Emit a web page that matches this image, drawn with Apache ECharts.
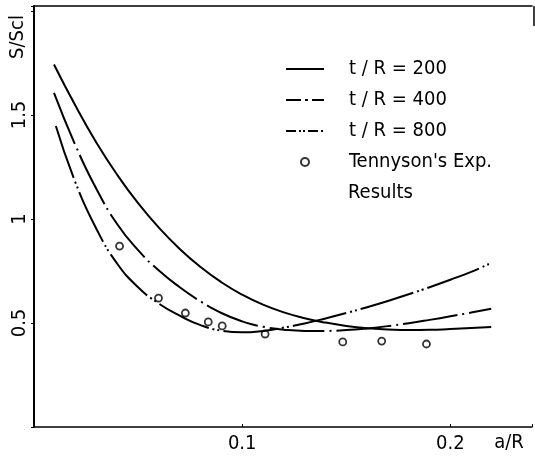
<!DOCTYPE html>
<html>
<head>
<meta charset="utf-8">
<script src="https://cdn.jsdelivr.net/npm/echarts@6/dist/echarts.min.js"></script>
<style>html,body{margin:0;padding:0;background:#fff}#c{width:535px;height:456px}</style>
</head>
<body>
<div id="c"></div>
<script>
// ---- data (a/R on x, S/Scl on y) ----
const x200 = [0.0096,0.02,0.03,0.04,0.05,0.06,0.07,0.08,0.09,0.10,0.11,0.12,0.13,0.14,0.15,0.16,0.17,0.18,0.19,0.20,0.21,0.2196];
const s200 = [1.743,1.543,1.367,1.212,1.076,0.958,0.856,0.769,0.696,0.636,0.588,0.551,0.523,0.502,0.486,0.475,0.469,0.466,0.467,0.471,0.476,0.481];

const x400 = [0.0096,0.02,0.03,0.04,0.05,0.06,0.07,0.08,0.09,0.10,0.11,0.12,0.13,0.14,0.15,0.16,0.17,0.18,0.19,0.20,0.21,0.2196];
const s400 = [1.606,1.352,1.144,0.975,0.850,0.752,0.672,0.604,0.548,0.508,0.482,0.468,0.462,0.462,0.466,0.474,0.485,0.499,0.515,0.532,0.550,0.568];

const x800 = [0.0105,0.02,0.03,0.04,0.05,0.06,0.07,0.08,0.09,0.10,0.11,0.12,0.13,0.14,0.15,0.16,0.17,0.18,0.19,0.20,0.21,0.219];
const s800 = [1.447,1.173,0.952,0.785,0.672,0.593,0.535,0.490,0.463,0.455,0.462,0.478,0.498,0.522,0.548,0.576,0.606,0.638,0.672,0.708,0.746,0.786];

const expX = [0.0411,0.0598,0.0727,0.0837,0.0904,0.111,0.1483,0.167,0.1885];
const expY = [0.870,0.620,0.548,0.505,0.486,0.447,0.409,0.413,0.399];

const seriesNames = ['t / R = 200','t / R = 400','t / R = 800',"Tennyson's Exp."];
const xTickLabels = ['0.1','0.2'];
const yTickLabels = ['0.5','1','1.5'];

const FONT = "'Liberation Sans Narrow','DejaVu Sans Condensed','Liberation Sans',sans-serif";
const pairs = (xs, ys) => xs.map((x, i) => [x, ys[i]]);
const fmt = (v, list) => { for (const s of list) { if (Math.abs(v - parseFloat(s)) < 1e-9) return s; } return ''; };
const hideSym = {opacity: 0};

const chart = echarts.init(document.getElementById('c'), null, {renderer: 'canvas'});
chart.setOption({
  animation: false,
  backgroundColor: '#fff',
  grid: {left: 34, right: 1, top: 6, bottom: 29},
  xAxis: [{
    type: 'value', min: 0, max: 0.2392, interval: 0.1,
    axisLine: {lineStyle: {color: '#000', width: 1.5}},
    axisTick: {show: true, inside: true, length: 3, lineStyle: {color: '#000'}},
    splitLine: {show: false},
    axisLabel: {color: '#000', fontSize: 20, fontFamily: FONT, margin: 7, formatter: v => fmt(v, xTickLabels)}
  }, {
    type: 'value', position: 'top', min: 0, max: 0.2392,
    axisLine: {show: true, lineStyle: {color: '#000', width: 1.5}},
    axisTick: {show: false}, axisLabel: {show: false}, splitLine: {show: false}
  }],
  yAxis: {
    type: 'value', min: 0, max: 2.024, interval: 0.5,
    axisLine: {show: true, lineStyle: {color: '#000', width: 2}},
    axisTick: {show: true, length: 3, lineStyle: {color: '#000'}},
    splitLine: {show: false},
    axisLabel: {color: '#000', fontSize: 20, fontFamily: FONT, rotate: 90, margin: 4, formatter: v => fmt(v, yTickLabels)}
  },
  legend: {
    orient: 'vertical', left: 280, top: 54,
    itemWidth: 38, itemHeight: 8, itemGap: 11,
    textStyle: {fontSize: 20, color: '#000', fontFamily: FONT, padding: [0, 0, 0, 20]},
    data: [
      {name: seriesNames[0], lineStyle: {type: 'solid'}, itemStyle: hideSym},
      {name: seriesNames[1], lineStyle: {type: [15, 4, 3, 4]}, itemStyle: hideSym},
      {name: seriesNames[2], lineStyle: {type: [10, 3, 2, 2, 2, 3]}, itemStyle: hideSym},
      {name: seriesNames[3], icon: 'circle'}
    ]
  },
  graphic: [
    {type: 'text', left: 348, top: 183, style: {text: 'Results', fontSize: 20, fontFamily: FONT, fill: '#000'}},
    {type: 'text', x: 509, y: 443, style: {text: 'a/R', fontSize: 20, fontFamily: FONT, fill: '#000', textAlign: 'center', textVerticalAlign: 'middle'}},
    {type: 'text', x: 18, y: 37, rotation: Math.PI / 2, style: {text: 'S/Scl', fontSize: 20, fontFamily: FONT, fill: '#000', textAlign: 'center', textVerticalAlign: 'middle'}},
    {type: 'line', shape: {x1: 534, y1: 6, x2: 534, y2: 26}, style: {stroke: '#000', lineWidth: 1.5}}
  ],
  series: [
    {name: seriesNames[0], type: 'line', smooth: true, symbol: 'none', data: pairs(x200, s200),
     lineStyle: {color: '#000', width: 2, type: 'solid'}, itemStyle: {color: '#000'}},
    {name: seriesNames[1], type: 'line', smooth: true, symbol: 'none', data: pairs(x400, s400),
     lineStyle: {color: '#000', width: 2, type: [55, 5, 2, 5]}, itemStyle: {color: '#000'}},
    {name: seriesNames[2], type: 'line', smooth: true, symbol: 'none', data: pairs(x800, s800),
     lineStyle: {color: '#000', width: 2, type: [55, 4, 2, 3, 2, 4]}, itemStyle: {color: '#000'}},
    {name: seriesNames[3], type: 'scatter', symbol: 'circle', symbolSize: 7, data: pairs(expX, expY),
     itemStyle: {color: '#fff', borderColor: '#000', borderWidth: 1.8}}
  ]
});
</script>
</body>
</html>
